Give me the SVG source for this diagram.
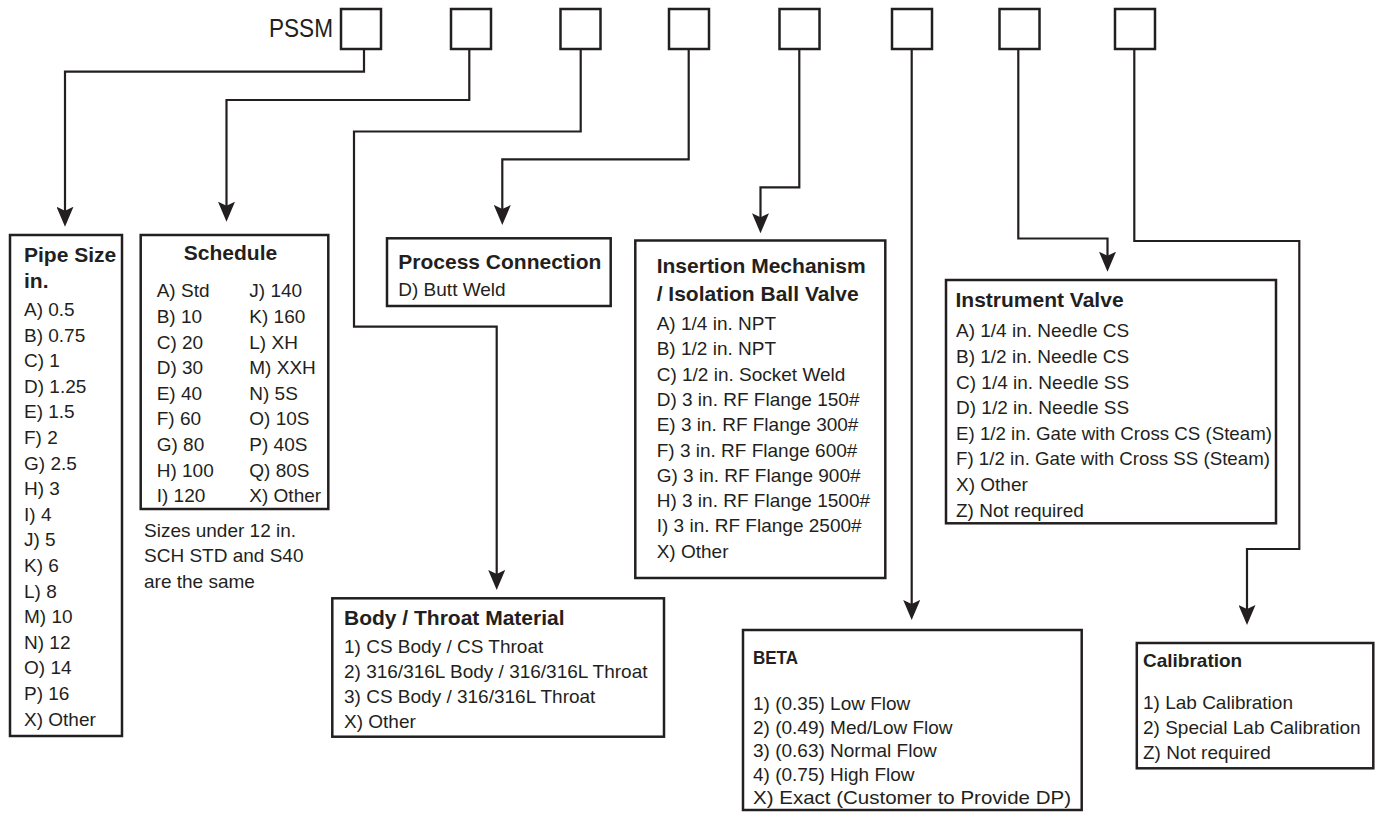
<svg xmlns="http://www.w3.org/2000/svg" width="1377" height="818" viewBox="0 0 1377 818">
<style>
  .bg{fill:#ffffff}
  .box{fill:none;stroke:#231f20;stroke-width:2.5}
  .sq{fill:#ffffff;stroke:#231f20;stroke-width:2.5}
  .wire{fill:none;stroke:#231f20;stroke-width:2.2;stroke-linejoin:miter}
  .t{font-family:"Liberation Sans",Arial,sans-serif;font-size:19px;fill:#231f20}
  .h{font-family:"Liberation Sans",Arial,sans-serif;font-size:21px;font-weight:bold;fill:#231f20}
  .h2{font-family:"Liberation Sans",Arial,sans-serif;font-size:19px;font-weight:bold;fill:#231f20}
  .code{font-family:"Liberation Sans",Arial,sans-serif;font-size:25px;fill:#231f20}
</style>
<defs>
  <marker id="arr" viewBox="0 0 20 17" refX="16" refY="8.5" markerWidth="20" markerHeight="17" markerUnits="userSpaceOnUse" orient="auto">
    <path d="M0,0 L20,8.5 L0,17 L4,8.5 Z" fill="#231f20"/>
  </marker>
</defs>
<rect class="bg" x="0" y="0" width="1377" height="818"/>

<g id="connectors">
  <path class="wire" d="M364,49 V71.7 H65 V222.7" marker-end="url(#arr)"/>
  <path class="wire" d="M469.3,49 V100 H226.5 V217.7" marker-end="url(#arr)"/>
  <path class="wire" d="M580.7,49 V131.5 H354 V326.7 H496.7 V586" marker-end="url(#arr)"/>
  <path class="wire" d="M688.7,49 V159.3 H502.3 V221" marker-end="url(#arr)"/>
  <path class="wire" d="M799.3,49 V187.3 H760.5 V229.3" marker-end="url(#arr)"/>
  <path class="wire" d="M911.7,49 V616" marker-end="url(#arr)"/>
  <path class="wire" d="M1018.3,49 V238.5 H1107.5 V267.7" marker-end="url(#arr)"/>
  <path class="wire" d="M1134.3,49 V241 H1299.3 V549 H1247 V621" marker-end="url(#arr)"/>
</g>

<g id="code">
  <text class="code" x="333" y="37.3" text-anchor="end" textLength="64" lengthAdjust="spacingAndGlyphs">PSSM</text>
  <rect class="sq" x="341" y="9" width="40" height="40"/>
  <rect class="sq" x="451" y="9" width="40" height="40"/>
  <rect class="sq" x="560.5" y="9" width="40" height="40"/>
  <rect class="sq" x="669" y="9" width="40" height="40"/>
  <rect class="sq" x="779.5" y="9" width="40" height="40"/>
  <rect class="sq" x="892" y="9" width="40" height="40"/>
  <rect class="sq" x="999.5" y="9" width="40" height="40"/>
  <rect class="sq" x="1115" y="9" width="40" height="40"/>
</g>

<g id="pipe-size">
  <rect class="box" x="10" y="235" width="112" height="501"/>
  <text class="h" x="24" y="261.7">Pipe Size</text>
  <text class="h" x="24" y="288.3">in.</text>
  <text class="t" x="24" y="316">A) 0.5</text>
  <text class="t" x="24" y="341.6">B) 0.75</text>
  <text class="t" x="24" y="367.2">C) 1</text>
  <text class="t" x="24" y="392.8">D) 1.25</text>
  <text class="t" x="24" y="418.4">E) 1.5</text>
  <text class="t" x="24" y="444">F) 2</text>
  <text class="t" x="24" y="469.6">G) 2.5</text>
  <text class="t" x="24" y="495.2">H) 3</text>
  <text class="t" x="24" y="520.8">I) 4</text>
  <text class="t" x="24" y="546.4">J) 5</text>
  <text class="t" x="24" y="572">K) 6</text>
  <text class="t" x="24" y="597.6">L) 8</text>
  <text class="t" x="24" y="623.2">M) 10</text>
  <text class="t" x="24" y="648.8">N) 12</text>
  <text class="t" x="24" y="674.4">O) 14</text>
  <text class="t" x="24" y="700">P) 16</text>
  <text class="t" x="24" y="725.6">X) Other</text>
</g>

<g id="schedule">
  <rect class="box" x="140.7" y="235" width="187.6" height="274"/>
  <text class="h" x="230.5" y="260" text-anchor="middle">Schedule</text>
  <text class="t" x="156.7" y="297.3">A) Std</text>
  <text class="t" x="156.7" y="322.9">B) 10</text>
  <text class="t" x="156.7" y="348.5">C) 20</text>
  <text class="t" x="156.7" y="374.1">D) 30</text>
  <text class="t" x="156.7" y="399.7">E) 40</text>
  <text class="t" x="156.7" y="425.3">F) 60</text>
  <text class="t" x="156.7" y="450.9">G) 80</text>
  <text class="t" x="156.7" y="476.5">H) 100</text>
  <text class="t" x="156.7" y="502.1">I) 120</text>
  <text class="t" x="249.3" y="297.3">J) 140</text>
  <text class="t" x="249.3" y="322.9">K) 160</text>
  <text class="t" x="249.3" y="348.5">L) XH</text>
  <text class="t" x="249.3" y="374.1">M) XXH</text>
  <text class="t" x="249.3" y="399.7">N) 5S</text>
  <text class="t" x="249.3" y="425.3">O) 10S</text>
  <text class="t" x="249.3" y="450.9">P) 40S</text>
  <text class="t" x="249.3" y="476.5">Q) 80S</text>
  <text class="t" x="249.3" y="502.1">X) Other</text>
  <text class="t" x="144" y="536.7">Sizes under 12 in.</text>
  <text class="t" x="144" y="562.3">SCH STD and S40</text>
  <text class="t" x="144" y="587.7">are the same</text>
</g>

<g id="process-connection">
  <rect class="box" x="387" y="238.3" width="223.7" height="67.7"/>
  <text class="h" x="398.3" y="269">Process Connection</text>
  <text class="t" x="398.3" y="296">D) Butt Weld</text>
</g>

<g id="body-throat">
  <rect class="box" x="332.3" y="598.3" width="331.7" height="138.4"/>
  <text class="h" x="344" y="625">Body / Throat Material</text>
  <text class="t" x="344" y="652.7">1) CS Body / CS Throat</text>
  <text class="t" x="344" y="677.7">2) 316/316L Body / 316/316L Throat</text>
  <text class="t" x="344" y="703.3">3) CS Body / 316/316L Throat</text>
  <text class="t" x="344" y="728.3">X) Other</text>
</g>

<g id="insertion">
  <rect class="box" x="635.3" y="240.5" width="250" height="337.5"/>
  <text class="h" x="656.7" y="272.7">Insertion Mechanism</text>
  <text class="h" x="656.7" y="301">/ Isolation Ball Valve</text>
  <text class="t" x="656.7" y="330">A) 1/4 in. NPT</text>
  <text class="t" x="656.7" y="355.3">B) 1/2 in. NPT</text>
  <text class="t" x="656.7" y="380.6">C) 1/2 in. Socket Weld</text>
  <text class="t" x="656.7" y="405.9">D) 3 in. RF Flange 150#</text>
  <text class="t" x="656.7" y="431.2">E) 3 in. RF Flange 300#</text>
  <text class="t" x="656.7" y="456.5">F) 3 in. RF Flange 600#</text>
  <text class="t" x="656.7" y="481.8">G) 3 in. RF Flange 900#</text>
  <text class="t" x="656.7" y="507.1">H) 3 in. RF Flange 1500#</text>
  <text class="t" x="656.7" y="532.4">I) 3 in. RF Flange 2500#</text>
  <text class="t" x="656.7" y="557.7">X) Other</text>
</g>

<g id="instrument-valve">
  <rect class="box" x="946" y="280" width="330" height="243.3"/>
  <text class="h" x="955.5" y="306.7">Instrument Valve</text>
  <text class="t" x="956" y="337.3">A) 1/4 in. Needle CS</text>
  <text class="t" x="956" y="362.9">B) 1/2 in. Needle CS</text>
  <text class="t" x="956" y="388.5">C) 1/4 in. Needle SS</text>
  <text class="t" x="956" y="414.1">D) 1/2 in. Needle SS</text>
  <text class="t" x="956" y="439.7" textLength="316" lengthAdjust="spacingAndGlyphs">E) 1/2 in. Gate with Cross CS (Steam)</text>
  <text class="t" x="956" y="465.3" textLength="314" lengthAdjust="spacingAndGlyphs">F) 1/2 in. Gate with Cross SS (Steam)</text>
  <text class="t" x="956" y="490.9">X) Other</text>
  <text class="t" x="956" y="516.5">Z) Not required</text>
</g>

<g id="beta">
  <rect class="box" x="743" y="630" width="338.7" height="180"/>
  <text class="h2" x="753" y="664" textLength="45" lengthAdjust="spacingAndGlyphs">BETA</text>
  <text class="t" x="753" y="710">1) (0.35) Low Flow</text>
  <text class="t" x="753" y="733.5">2) (0.49) Med/Low Flow</text>
  <text class="t" x="753" y="757">3) (0.63) Normal Flow</text>
  <text class="t" x="753" y="780.5">4) (0.75) High Flow</text>
  <text class="t" x="753" y="804" textLength="318" lengthAdjust="spacingAndGlyphs">X) Exact (Customer to Provide DP)</text>
</g>

<g id="calibration">
  <rect class="box" x="1136.8" y="643" width="236.5" height="125.3"/>
  <text class="h2" x="1143" y="666.7">Calibration</text>
  <text class="t" x="1143" y="709">1) Lab Calibration</text>
  <text class="t" x="1143" y="733.5">2) Special Lab Calibration</text>
  <text class="t" x="1143" y="758.5">Z) Not required</text>
</g>
</svg>
